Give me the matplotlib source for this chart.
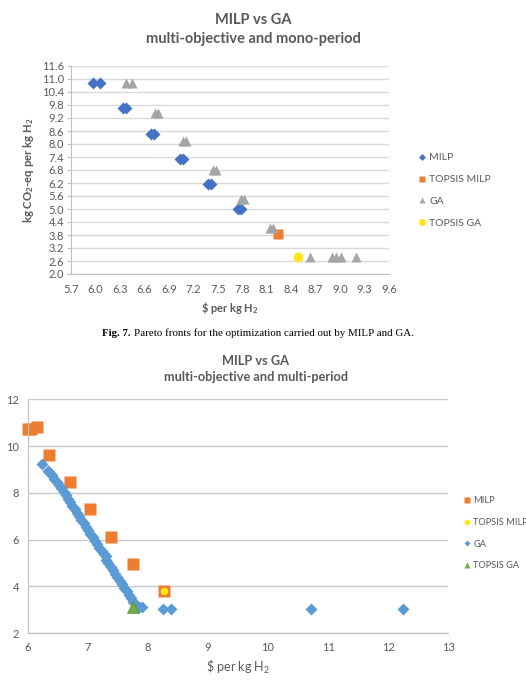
import matplotlib
matplotlib.use("Agg")
import matplotlib.pyplot as plt
from matplotlib.lines import Line2D

plt.rcParams['font.family'] = ['Lato', 'DejaVu Sans']
plt.rcParams['mathtext.fontset'] = 'custom'
plt.rcParams['mathtext.rm'] = 'Lato'
plt.rcParams['mathtext.it'] = 'Lato'
plt.rcParams['mathtext.bf'] = 'Lato:bold'

# Colours (Excel palette)
BLUE_DARK = '#4472C4'
BLUE = '#5B9BD5'
ORANGE = '#ED7D31'
GRAY = '#A5A5A5'
YELLOW = '#FFE419'
GREEN = '#70AD47'
GRID = '#D9D9D9'
TXT = '#595959'

# ---- Top chart: multi-objective, mono-period ----
milp_mono_x = [5.97, 6.06, 6.34, 6.38, 6.68, 6.72, 7.04, 7.07, 7.38, 7.42, 7.75, 7.79]
milp_mono_y = [10.82, 10.82, 9.65, 9.65, 8.48, 8.48, 7.31, 7.31, 6.16, 6.16, 4.98, 4.98]
topsis_milp_mono_x = [8.24]
topsis_milp_mono_y = [3.83]
ga_mono_x = [6.37, 6.45, 6.73, 6.77, 7.07, 7.11, 7.44, 7.48, 7.78, 7.82, 8.14, 8.18,
             8.63, 8.90, 8.95, 9.01, 9.20]
ga_mono_y = [10.80, 10.80, 9.43, 9.43, 8.13, 8.13, 6.79, 6.79, 5.46, 5.46, 4.14, 4.14,
             2.78, 2.78, 2.78, 2.78, 2.78]
topsis_ga_mono_x = [8.48]
topsis_ga_mono_y = [2.78]

top_xticks = [5.7, 6.0, 6.3, 6.6, 6.9, 7.2, 7.5, 7.8, 8.1, 8.4, 8.7, 9.0, 9.3, 9.6]
top_yticks = [2.0, 2.6, 3.2, 3.8, 4.4, 5.0, 5.6, 6.2, 6.8, 7.4, 8.0, 8.6, 9.2, 9.8,
              10.4, 11.0, 11.6]

# ---- Bottom chart: multi-objective, multi-period ----
milp_multi_x = [6.00, 6.05, 6.15, 6.35, 6.70, 7.04, 7.39, 7.75, 8.27]
milp_multi_y = [10.73, 10.73, 10.80, 9.64, 8.47, 7.31, 6.13, 4.98, 3.81]
topsis_milp_multi_x = [8.27]
topsis_milp_multi_y = [3.81]
ga_multi_x = [6.24, 6.33, 6.36, 6.40, 6.44, 6.48, 6.52, 6.56, 6.60, 6.64, 6.67, 6.71,
              6.74, 6.78, 6.82, 6.85, 6.89, 6.93, 6.97, 7.00, 7.04, 7.08, 7.12, 7.16,
              7.19, 7.23, 7.27, 7.31, 7.30, 7.34, 7.38, 7.42, 7.46, 7.49, 7.53, 7.57,
              7.61, 7.65, 7.69, 7.72, 7.76, 7.81, 7.86, 7.90, 8.26, 8.38, 10.71, 12.25]
ga_multi_y = [9.22, 8.92, 8.88, 8.75, 8.60, 8.48, 8.33, 8.20, 8.05, 7.90, 7.75, 7.60,
              7.45, 7.30, 7.15, 7.00, 6.85, 6.70, 6.55, 6.40, 6.25, 6.10, 5.95, 5.80,
              5.65, 5.50, 5.38, 5.30, 5.15, 5.00, 4.85, 4.70, 4.55, 4.40, 4.25, 4.10,
              3.95, 3.80, 3.65, 3.50, 3.35, 3.20, 3.12, 3.11, 3.05, 3.03, 3.05, 3.05]
topsis_ga_multi_x = [7.75]
topsis_ga_multi_y = [3.11]

bot_xticks = [6, 7, 8, 9, 10, 11, 12, 13]
bot_yticks = [2, 4, 6, 8, 10, 12]

W, H = 526, 682
fig = plt.figure(figsize=(W / 100, H / 100), dpi=100)


def px_axes(left, top, right, bottom):
    return fig.add_axes([left / W, 1 - bottom / H, (right - left) / W, (bottom - top) / H])


def style(ax, yticks, grid_color):
    for s in ['top', 'right']:
        ax.spines[s].set_visible(False)
    for s in ['left', 'bottom']:
        ax.spines[s].set_color('#BFBFBF')
        ax.spines[s].set_linewidth(0.8)
    ax.set_yticks(yticks)
    ax.grid(axis='y', color=grid_color, linewidth=1.0)
    ax.set_axisbelow(True)
    ax.tick_params(colors='#BFBFBF', labelcolor=TXT, length=3, width=0.8)


# top chart
ax1 = px_axes(71, 66, 389, 274)
style(ax1, top_yticks, GRID)
ax1.set_xlim(5.7, 9.6)
ax1.set_ylim(2.0, 11.6)
ax1.set_xticks(top_xticks)
ax1.set_xticklabels([f'{v:.1f}' for v in top_xticks], fontsize=8)
ax1.set_yticklabels([f'{v:.1f}' for v in top_yticks], fontsize=8)
ax1.tick_params(axis='x', length=0, pad=7)
ax1.tick_params(axis='y', pad=2)

ax1.plot(milp_mono_x, milp_mono_y, 'D', color=BLUE_DARK, ms=6.5, mec='none', clip_on=False)
ax1.plot(topsis_milp_mono_x, topsis_milp_mono_y, 's', color=ORANGE, ms=7, mec='none', clip_on=False)
ax1.plot(ga_mono_x, ga_mono_y, '^', color=GRAY, ms=7.5, mec='none', clip_on=False)
ax1.plot(topsis_ga_mono_x, topsis_ga_mono_y, 'o', color=YELLOW, ms=7, mec='none', clip_on=False)

fig.text(253 / W, 1 - 20 / H, 'MILP vs GA', ha='center', va='center',
         fontsize=10.5, fontweight='bold', color=TXT)
fig.text(253 / W, 1 - 38.5 / H, 'multi-objective and mono-period', ha='center', va='center',
         fontsize=10.5, fontweight='bold', color=TXT)
fig.text(230 / W, 1 - 308 / H, r'\$ per kg H$\mathbf{_2}$', ha='center', va='center',
         fontsize=8, fontweight='bold', color=TXT)
fig.text(29 / W, 1 - 170 / H, r'kg CO$\mathbf{_2}$-eq per kg H$\mathbf{_2}$', ha='center',
         va='center', rotation=90, fontsize=8.2, fontweight='bold', color=TXT)

h_top = [
    Line2D([], [], ls='none', marker='D', color=BLUE_DARK, ms=3.5, mec='none'),
    Line2D([], [], ls='none', marker='s', color=ORANGE, ms=4.5, mec='none'),
    Line2D([], [], ls='none', marker='^', color=GRAY, ms=5, mec='none'),
    Line2D([], [], ls='none', marker='o', color=YELLOW, ms=5, mec='none'),
]
leg1 = fig.legend(h_top, ['MILP', 'TOPSIS MILP', 'GA', 'TOPSIS GA'], loc='center left',
                  bbox_to_anchor=(418 / W, 1 - 190.5 / H), frameon=False, fontsize=7.5,
                  handlelength=0.8, handletextpad=0.3, labelspacing=1.2, borderpad=0,
                  borderaxespad=0)
for t in leg1.get_texts():
    t.set_color(TXT)

# caption
fig.text(131 / W, 1 - 333 / H, 'Fig. 7.', ha='right', va='center', fontsize=7.8,
         fontweight='bold', family='Liberation Serif')
fig.text(134 / W, 1 - 333 / H, 'Pareto fronts for the optimization carried out by MILP and GA.',
         ha='left', va='center', fontsize=7.9, family='Liberation Serif')

# bottom chart
ax2 = px_axes(27.7, 399.3, 448.3, 633.3)
style(ax2, bot_yticks, '#C8C8C8')
ax2.set_xlim(6, 13)
ax2.set_ylim(2, 12)
ax2.set_xticks(bot_xticks)
ax2.tick_params(axis='both', length=0, labelsize=8, pad=6)

ax2.plot(milp_multi_x, milp_multi_y, 's', color=ORANGE, ms=8, mec='none', clip_on=False)
ax2.plot(topsis_milp_multi_x, topsis_milp_multi_y, 'o', color=YELLOW, ms=5.5, mec='none', clip_on=False)
ax2.plot(ga_multi_x, ga_multi_y, 'D', color=BLUE, ms=5.8, mec='none', clip_on=False)
ax2.plot(topsis_ga_multi_x, topsis_ga_multi_y, '^', color=GREEN, ms=8, mec='#5A8F3A',
         mew=0.5, clip_on=False)

fig.text(256 / W, 1 - 361 / H, 'MILP vs GA', ha='center', va='center',
         fontsize=9.2, fontweight='bold', color=TXT)
fig.text(256 / W, 1 - 377.5 / H, 'multi-objective and multi-period', ha='center', va='center',
         fontsize=9.2, fontweight='bold', color=TXT)
fig.text(238 / W, 1 - 667 / H, r'\$ per kg H$_2$', ha='center', va='center',
         fontsize=9, color=TXT)
fig.text(-5 / W, 1 - 516 / H, r'kg CO$_2$-eq per kg H$_2$', ha='center', va='center',
         rotation=90, fontsize=9, color=TXT)

h_bot = [
    Line2D([], [], ls='none', marker='s', color=ORANGE, ms=4, mec='none'),
    Line2D([], [], ls='none', marker='o', color=YELLOW, ms=4, mec='none'),
    Line2D([], [], ls='none', marker='D', color=BLUE, ms=3, mec='none'),
    Line2D([], [], ls='none', marker='^', color=GREEN, ms=4.5, mec='none'),
]
leg2 = fig.legend(h_bot, ['MILP', 'TOPSIS MILP', 'GA', 'TOPSIS GA'], loc='center left',
                  bbox_to_anchor=(463.5 / W, 1 - 533.3 / H), frameon=False, fontsize=6.7,
                  handlelength=0.8, handletextpad=0.25, labelspacing=1.35, borderpad=0,
                  borderaxespad=0)
for t in leg2.get_texts():
    t.set_color(TXT)

fig.savefig('out.png', dpi=100)
